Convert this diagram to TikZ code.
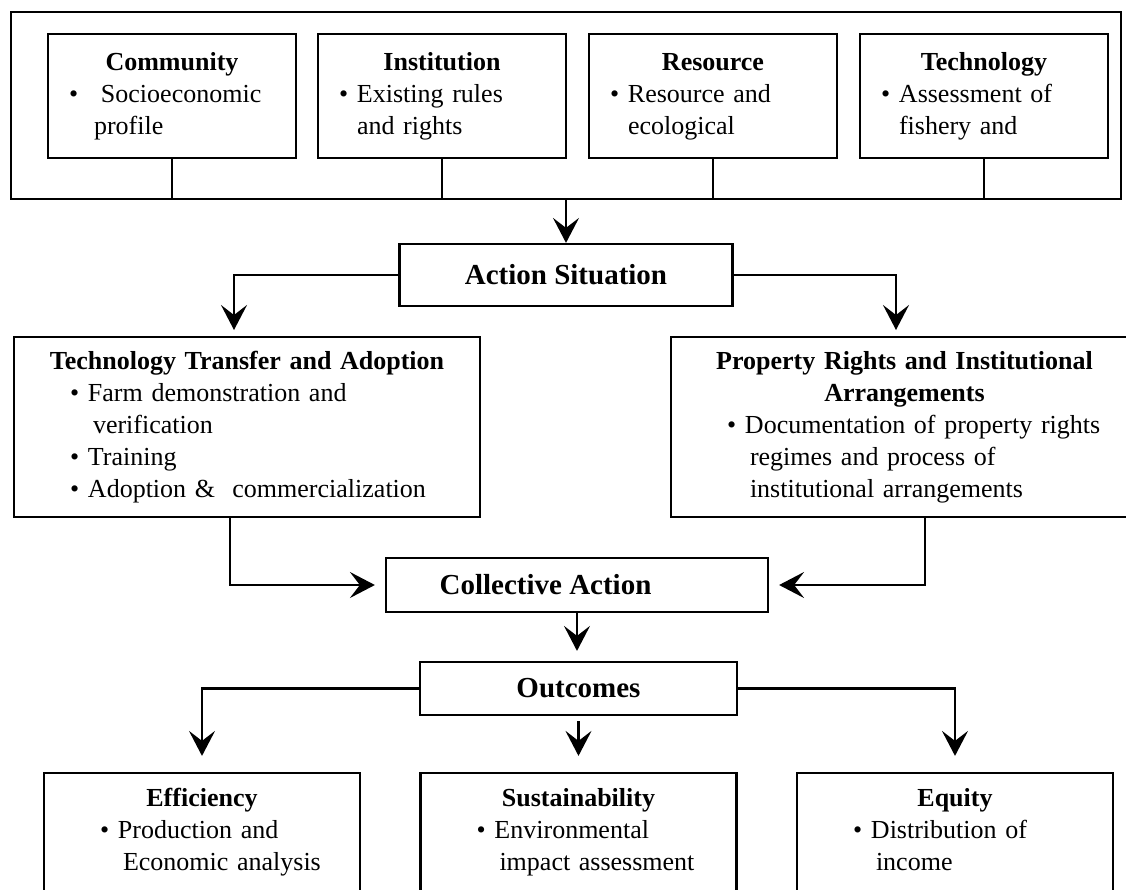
\documentclass[tikz,border=0pt]{standalone}
\usepackage{fontspec}
\setmainfont{Liberation Serif}
\usetikzlibrary{arrows.meta,calc,positioning}

\newcommand{\ttl}[1]{\makebox[\hsize][c]{\strut\bfseries #1}}
\newcommand{\bl}[1]{\mbox{\strut\makebox[9pt][l]{\textbullet}#1}}
\newcommand{\cl}[2][11.5pt]{\mbox{\strut\hspace*{#1}#2}}

\tikzset{
	box/.style={draw, line width=1.1pt, inner ysep=0pt, font=\fontsize{13}{16}\selectfont},
	factorbox/.style={box, align=left, text width=103pt, inner xsep=10.5pt, minimum height=62pt},
	areabox/.style={box, align=left, inner xsep=28pt, minimum height=90pt},
	outbox/.style={box, align=left, text width=102pt, inner xsep=28pt, minimum height=59.5pt},
	stagebox/.style={box, inner xsep=0pt, font=\fontsize{14.5}{17}\selectfont\bfseries},
	link/.style={line width=1.1pt},
	arr/.style={link, -{Stealth[length=12.5pt, width=13pt, inset=5pt]}}
}

\begin{document}
\begin{tikzpicture}[x=0.5pt, y=-0.5pt]
	\useasboundingbox (0,0) rectangle (1126,890);
	\clip (0,0) rectangle (1126,890);
	\node[box, minimum width=555pt, minimum height=93.5pt] (context) at (566,105.5) {};
	\node[factorbox] (comm) at (172,96) {\ttl{Community}\\\mbox{\strut\makebox[16pt][l]{\textbullet}Socioeconomic}\\\cl[12.5pt]{profile}};
	\node[factorbox] (inst) at (442,96) {\ttl{Institution}\\\bl{Existing rules}\\\cl[9pt]{and rights}};
	\node[factorbox] (res) at (713,96) {\ttl{Resource}\\\bl{Resource and}\\\cl[9pt]{ecological}};
	\node[factorbox] (techf) at (984,96) {\ttl{Technology}\\\bl{Assessment of}\\\cl[9pt]{fishery and}};
	\foreach \n in {comm,inst,res,techf}
		\draw[link] (\n.south) -- (\n.south |- context.south);

	\node[stagebox, minimum width=166.5pt, minimum height=31pt] (act) at (566,275) {Action Situation};
	\draw[arr] (context.south) -- (act.north);

	\node[areabox, text width=177pt] (ttad) at (247,427) {\ttl{Technology Transfer and Adoption}\\\bl{Farm demonstration and}\\\cl{verification}\\\bl{Training}\\\bl{Adoption \&\ \ commercialization}};
	\node[areabox, text width=177.5pt] (prop) at (904.5,427) {\ttl{Property Rights and Institutional}\\\ttl{Arrangements}\\\bl{Documentation of property rights}\\\cl{regimes and process of}\\\cl{institutional arrangements}};
	\coordinate (tl) at (234,337);
	\coordinate (tr) at (896,337);
	\draw[arr, shorten >=3.5pt] (act.west) -| (tl);
	\draw[arr, shorten >=3.5pt] (act.east) -| (tr);

	\node[stagebox, minimum width=191pt, minimum height=27pt] (coll) at (577,585) {Collective Action\hspace*{31.5pt}};
	\draw[arr, shorten >=5pt] ($(ttad.south)+(-17,0)$) |- (coll.west);
	\draw[arr, shorten >=5pt] ($(prop.south)+(20.5,0)$) |- (coll.east);

	\node[stagebox, minimum width=158.5pt, minimum height=26.5pt] (out) at (578.5,688.5) {Outcomes};
	\draw[arr, shorten >=5pt] (coll.south) -- (coll.south |- out.north);

	\node[outbox] (eff) at (202,832.5) {\ttl{Efficiency}\\\bl{Production and}\\\cl{Economic analysis}};
	\node[outbox] (sust) at (578.5,832.5) {\ttl{Sustainability}\\\bl{Environmental}\\\cl{impact assessment}};
	\node[outbox] (eq) at (955,832.5) {\ttl{Equity}\\\bl{Distribution of}\\\cl{income}};
	\draw[arr, shorten >=8pt] (out.west) -| (eff.north);
	\draw[arr, shorten <=2.5pt, shorten >=8pt] (out.south) -- (sust.north);
	\draw[arr, shorten >=8pt] (out.east) -| (eq.north);
\end{tikzpicture}
\end{document}
